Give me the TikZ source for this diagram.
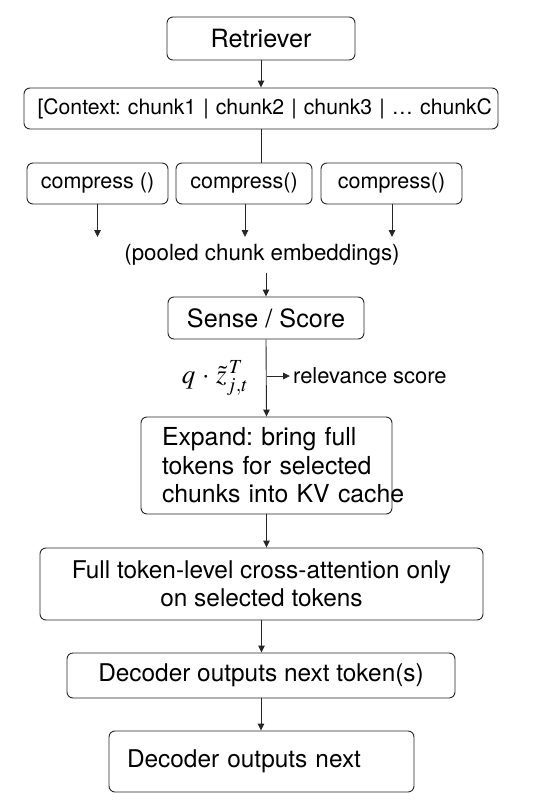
\RequirePackage{fix-cm}
\documentclass[tikz,border=0pt]{standalone}
\usepackage{mathptmx}
\usepackage{fontspec}
\setmainfont{TeX Gyre Heros}
\usetikzlibrary{arrows.meta}
\frenchspacing

\begin{document}
\begin{tikzpicture}[x=1pt,y=-1pt,
  box/.style={draw=black!85, line width=0.9pt, rounded corners=6pt, inner sep=0pt},
  arr/.style={line width=0.9pt, draw=black!85, -{Triangle[length=7pt,width=6.5pt]}},
  lin/.style={line width=0.9pt, draw=black!85}]
\useasboundingbox (0,0) rectangle (533,800);
% Boxes
\node[box, minimum width=188, minimum height=43, font=\fontsize{25.2}{30}\selectfont] (retr) at (261,38.5) {Retriever};
\node[box, minimum width=474, minimum height=41, text width=447pt, inner xsep=13.5pt, align=left, font=\fontsize{21.2}{26}\selectfont] (ctx) at (261,108.5) {\mbox{[Context: chunk1 | chunk2 | chunk3 | \dots\ chunkC}};
\node[box, minimum width=141, minimum height=41, font=\fontsize{21.5}{26}\selectfont] (c1) at (97.5,183.5) {compress ()};
\node[box, minimum width=136, minimum height=41, font=\fontsize{21.5}{26}\selectfont] (c2) at (244,183.5) {compress()};
\node[box, minimum width=141, minimum height=41, font=\fontsize{21.5}{26}\selectfont] (c3) at (391.5,183.5) {compress()};
\node[inner sep=7pt, font=\fontsize{22.3}{27}\selectfont] (pool) at (262,255) {(pooled chunk embeddings)};
\node[box, minimum width=196, minimum height=42, font=\fontsize{25.2}{30}\selectfont] (sense) at (266,318) {Sense / Score};
\node[font=\fontsize{27}{32}\selectfont] (form) at (215,378) {$q\,\cdot\,\tilde{z}_{j,t}^{\,T}$};
\node[anchor=west, inner sep=3pt, font=\fontsize{21.9}{26}\selectfont] (rel) at (290,376) {relevance score};
\node[box, minimum width=251, minimum height=97, text width=209pt, inner xsep=21pt, align=left, font=\fontsize{24.8}{28.5}\selectfont] (exp) at (266.5,465.5) {\mbox{Expand: bring full}\\\mbox{tokens for selected}\\\mbox{chunks into KV cache}};
\node[box, minimum width=443, minimum height=72, align=center, font=\fontsize{24.4}{28}\selectfont] (full) at (261.5,584) {Full token-level cross-attention only\\on selected tokens};
\node[box, minimum width=388, minimum height=45, font=\fontsize{24.4}{29}\selectfont] (dec1) at (261,675.5) {Decoder outputs next token(s)};
\node[box, minimum width=305, minimum height=61, text width=269pt, inner xsep=18pt, align=left, font=\fontsize{24.4}{29}\selectfont] (dec2) at (261.5,761.5) {\mbox{Decoder outputs next}};

% Points
\coordinate (p1) at (97.5,237);
\coordinate (p2) at (245,237);
\coordinate (p3) at (392,237);
\coordinate (rs) at (266.5,376);

%Lines
\draw[arr] (retr) -- (ctx);
\draw[lin] (ctx.south) -- (ctx.south |- c2.north);
\draw[arr] (c1) -- (p1);
\draw[arr] (c2.south -| p2) -- (p2);
\draw[arr] (c3.south -| p3) -- (p3);
\draw[arr] (pool.south -| sense.north) -- (sense.north);
\draw[arr] (sense.south) -- (exp.north);
\draw[arr] (rs) -- (rel.west);
\draw[arr] (exp.south) -- (exp.south |- full.north);
\draw[arr] (full.south) -- (full.south |- dec1.north);
\draw[arr] (dec1.south) -- (dec1.south |- dec2.north);
\end{tikzpicture}
\end{document}
